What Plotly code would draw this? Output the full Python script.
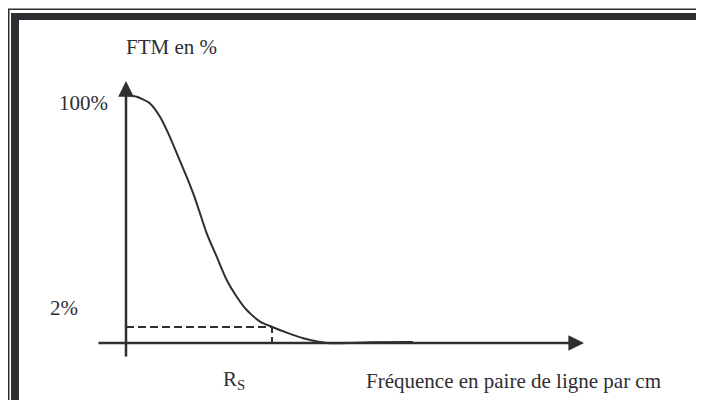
"""
Schéma FTM (fonction de transfert de modulation) en fonction de la fréquence.
"""
import plotly.graph_objects as go

# courbe FTM (unités du schéma : fréquence arbitraire, FTM en %)
freq = [0, 1.07, 2.4, 3.4, 4.23, 5.07, 6.07, 6.9, 8.07, 9.07, 10.07, 11.07,
        12.07, 13.4, 14.57, 16.07, 17.73, 19.4, 20.4, 24.5, 28.7]
ftm = [100.8, 100.1, 97.4, 92.0, 85.2, 77.2, 67.5, 58.8, 44.6, 35.1, 25.6, 18.8,
       13.4, 8.7, 6.6, 4.2, 1.9, 0.4, -0.1, 0.3, 0.4]

# résolution spatiale Rs et niveau 2 %
rs_freq = 14.6
seuil_ftm = 6.5

# axes du schéma (début -> flèche)
axe_x = [-2.9, 45.8]
axe_y = [-6.1, 106.5]

INK = "#2e2e33"
FONT = dict(family="Liberation Serif, Times New Roman, serif", size=21, color=INK)

# la page ajoute une marge de 8 px : la figure tient dans la fenêtre sans défilement
W, H = 696, 392

fig = go.Figure()

# pointillés du seuil 2 % jusqu'à Rs
fig.add_trace(go.Scatter(
    x=[0, rs_freq, rs_freq],
    y=[seuil_ftm, seuil_ftm, -0.4],
    mode="lines",
    line=dict(color=INK, width=2, dash="8px,4px"),
    hoverinfo="skip",
))

# courbe FTM
fig.add_trace(go.Scatter(
    x=freq,
    y=ftm,
    mode="lines",
    line=dict(color=INK, width=2, shape="spline", smoothing=0.6),
    hoverinfo="skip",
))

# axes avec flèches
for (x0, y0, x1, y1) in [(axe_x[0], 0, axe_x[1], 0), (0, axe_y[0], 0, axe_y[1])]:
    fig.add_annotation(
        x=x1, y=y1, ax=x0, ay=y0,
        xref="x", yref="y", axref="x", ayref="y",
        text="", showarrow=True,
        arrowhead=2, arrowwidth=2.5, arrowsize=1.25,
        arrowcolor=INK, standoff=0,
    )

# textes
labels = [
    ("FTM en %", -0.2, 120.3, "left"),
    ("100%", -1.6, 97.6, "right"),
    ("2%", -4.6, 14.2, "right"),
    ("R<sub>S</sub>", 9.5, -15.0, "left"),
    ("Fréquence en paire de ligne par cm", 23.8, -15.4, "left"),
]
for text, x, y, anchor in labels:
    fig.add_annotation(
        x=x, y=y, xref="x", yref="y",
        text=text, showarrow=False,
        xanchor=anchor, yanchor="middle",
        font=FONT,
    )


# cadre double (comme dans le document d'origine), en pixels de la figure
def px(v):
    return v / W


def py(v):
    return 1 - v / H


fig.add_shape(type="rect", xref="paper", yref="paper",
              x0=px(0.75), y0=py(1.25), x1=px(730), y1=py(430),
              line=dict(color=INK, width=1.5), fillcolor="rgba(0,0,0,0)", layer="below")
fig.add_shape(type="rect", xref="paper", yref="paper",
              x0=px(3), y0=py(5), x1=px(730), y1=py(430),
              line=dict(width=0), fillcolor=INK, layer="below")
fig.add_shape(type="rect", xref="paper", yref="paper",
              x0=px(11), y0=py(12), x1=px(730), y1=py(396),
              line=dict(width=0), fillcolor="white", layer="below")
fig.add_shape(type="line", xref="paper", yref="paper",
              x0=px(694), y0=py(12), x1=px(694), y1=py(400),
              line=dict(color=INK, width=1.5), layer="below")

# 0 de l'axe en x à 118 px, 10 px par unité ; 0 en y à 335 px, 2.46 px par unité
fig.update_xaxes(range=[-11.8, 57.8], visible=False, fixedrange=True)
fig.update_yaxes(range=[-23.17, 136.18], visible=False, fixedrange=True)

fig.update_layout(
    width=W,
    height=H,
    margin=dict(l=0, r=0, t=0, b=0),
    paper_bgcolor="white",
    plot_bgcolor="white",
    showlegend=False,
)

fig.write_html("out.html")
